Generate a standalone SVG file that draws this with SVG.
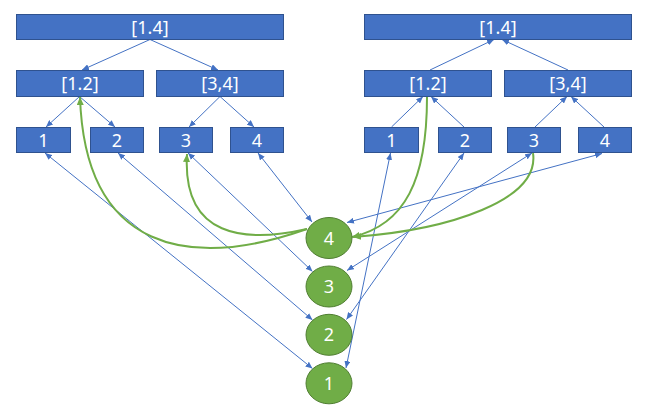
<svg xmlns="http://www.w3.org/2000/svg" width="671" height="415" viewBox="0 0 671 415">
<style>
.box{fill:#4472C4;stroke:#2F528F;stroke-width:1}
.circ{fill:#70AD47;stroke:#507E32;stroke-width:1}
.lbl{font-family:"Noto Sans","Liberation Sans",sans-serif;font-size:18px;fill:#ffffff;text-anchor:middle}
.bl{fill:none;stroke:#4472C4;stroke-width:1}
.gr{fill:none;stroke:#70AD47;stroke-width:2}
</style>
<defs>
<marker id="ab" viewBox="0 0 7 6" refX="7" refY="3" markerWidth="7" markerHeight="6" markerUnits="userSpaceOnUse" orient="auto-start-reverse"><path d="M0,0 L7,3 L0,6 z" fill="#4472C4"/></marker>
<marker id="ag" viewBox="0 0 8 7" refX="8" refY="3.5" markerWidth="8" markerHeight="7" markerUnits="userSpaceOnUse" orient="auto"><path d="M0,0 L8,3.5 L0,7 z" fill="#70AD47"/></marker>
</defs>

<g id="connectors">
<!-- left tree -->
<path class="bl" d="M150,39.5 L82,70" marker-end="url(#ab)"/>
<path class="bl" d="M150,39.5 L218,70" marker-end="url(#ab)"/>
<path class="bl" d="M79.5,96.5 L46,127" marker-end="url(#ab)"/>
<path class="bl" d="M79.5,96.5 L115,127" marker-end="url(#ab)"/>
<path class="bl" d="M220,96.5 L189,127" marker-end="url(#ab)"/>
<path class="bl" d="M220,96.5 L254,127" marker-end="url(#ab)"/>
<!-- right tree -->
<path class="bl" d="M430,70 L494,39.5" marker-end="url(#ab)"/>
<path class="bl" d="M568,70 L502,39.5" marker-end="url(#ab)"/>
<path class="bl" d="M391.5,127 L423,96.5" marker-end="url(#ab)"/>
<path class="bl" d="M464,127 L431,96.5" marker-end="url(#ab)"/>
<path class="bl" d="M535,127 L567,96.5" marker-end="url(#ab)"/>
<path class="bl" d="M604,127 L571,96.5" marker-end="url(#ab)"/>
<!-- leaves to circles -->
<path class="bl" d="M45,153 L312.5,368.5" marker-start="url(#ab)" marker-end="url(#ab)"/>
<path class="bl" d="M118,153 L312.5,320" marker-start="url(#ab)" marker-end="url(#ab)"/>
<path class="bl" d="M188,153 L312.5,271.5" marker-start="url(#ab)" marker-end="url(#ab)"/>
<path class="bl" d="M258,153 L312,222" marker-start="url(#ab)" marker-end="url(#ab)"/>
<path class="bl" d="M390.5,153 L346,368" marker-start="url(#ab)" marker-end="url(#ab)"/>
<path class="bl" d="M464,153 L346.5,319.5" marker-start="url(#ab)" marker-end="url(#ab)"/>
<path class="bl" d="M532,153 L347,270.5" marker-start="url(#ab)" marker-end="url(#ab)"/>
<path class="bl" d="M602,153.5 L347,222.5" marker-start="url(#ab)" marker-end="url(#ab)"/>
<!-- green curves -->
<path class="gr" d="M307,229 C190,270 85,252 80,97" marker-end="url(#ag)"/>
<path class="gr" d="M307,229 C245,243 182,238 187,154" marker-end="url(#ag)"/>
<path class="gr" d="M427,97 C427,180 405,225 352,237" marker-end="url(#ag)"/>
<path class="gr" d="M533,153 C540,200 450,230 353,237" marker-end="url(#ag)"/>
</g>

<g id="L_root"><rect class="box" x="16.5" y="14.5" width="267" height="25"/><text class="lbl" x="150" y="33.5">[1.4]</text></g>
<g id="L_12"><rect class="box" x="16.5" y="70.5" width="127" height="26"/><text class="lbl" x="80" y="90">[1.2]</text></g>
<g id="L_34"><rect class="box" x="156.5" y="70.5" width="127" height="26"/><text class="lbl" x="220" y="90">[3,4]</text></g>
<g id="L_1"><rect class="box" x="16.5" y="127.5" width="54" height="25"/><text class="lbl" x="43.5" y="146.5">1</text></g>
<g id="L_2"><rect class="box" x="90.5" y="127.5" width="53" height="25"/><text class="lbl" x="117" y="146.5">2</text></g>
<g id="L_3"><rect class="box" x="159.5" y="127.5" width="53" height="25"/><text class="lbl" x="186" y="146.5">3</text></g>
<g id="L_4"><rect class="box" x="230.5" y="127.5" width="53" height="25"/><text class="lbl" x="257" y="146.5">4</text></g>

<g id="R_root"><rect class="box" x="364.5" y="14.5" width="267" height="25"/><text class="lbl" x="498" y="33.5">[1.4]</text></g>
<g id="R_12"><rect class="box" x="364.5" y="70.5" width="127" height="26"/><text class="lbl" x="428" y="90">[1.2]</text></g>
<g id="R_34"><rect class="box" x="504.5" y="70.5" width="127" height="26"/><text class="lbl" x="568" y="90">[3,4]</text></g>
<g id="R_1"><rect class="box" x="364.5" y="127.5" width="54" height="25"/><text class="lbl" x="391.5" y="146.5">1</text></g>
<g id="R_2"><rect class="box" x="438.5" y="127.5" width="53" height="25"/><text class="lbl" x="465" y="146.5">2</text></g>
<g id="R_3"><rect class="box" x="507.5" y="127.5" width="53" height="25"/><text class="lbl" x="534" y="146.5">3</text></g>
<g id="R_4"><rect class="box" x="578.5" y="127.5" width="53" height="25"/><text class="lbl" x="605" y="146.5">4</text></g>

<g id="C_4"><ellipse class="circ" cx="329" cy="238" rx="23" ry="20.5"/><text class="lbl" x="329" y="244.5">4</text></g>
<g id="C_3"><ellipse class="circ" cx="329" cy="286.5" rx="23" ry="20.5"/><text class="lbl" x="329" y="293">3</text></g>
<g id="C_2"><ellipse class="circ" cx="329" cy="334.8" rx="23" ry="20.5"/><text class="lbl" x="329" y="341.3">2</text></g>
<g id="C_1"><ellipse class="circ" cx="329" cy="383.3" rx="23" ry="20.5"/><text class="lbl" x="329" y="389.8">1</text></g>
</svg>
